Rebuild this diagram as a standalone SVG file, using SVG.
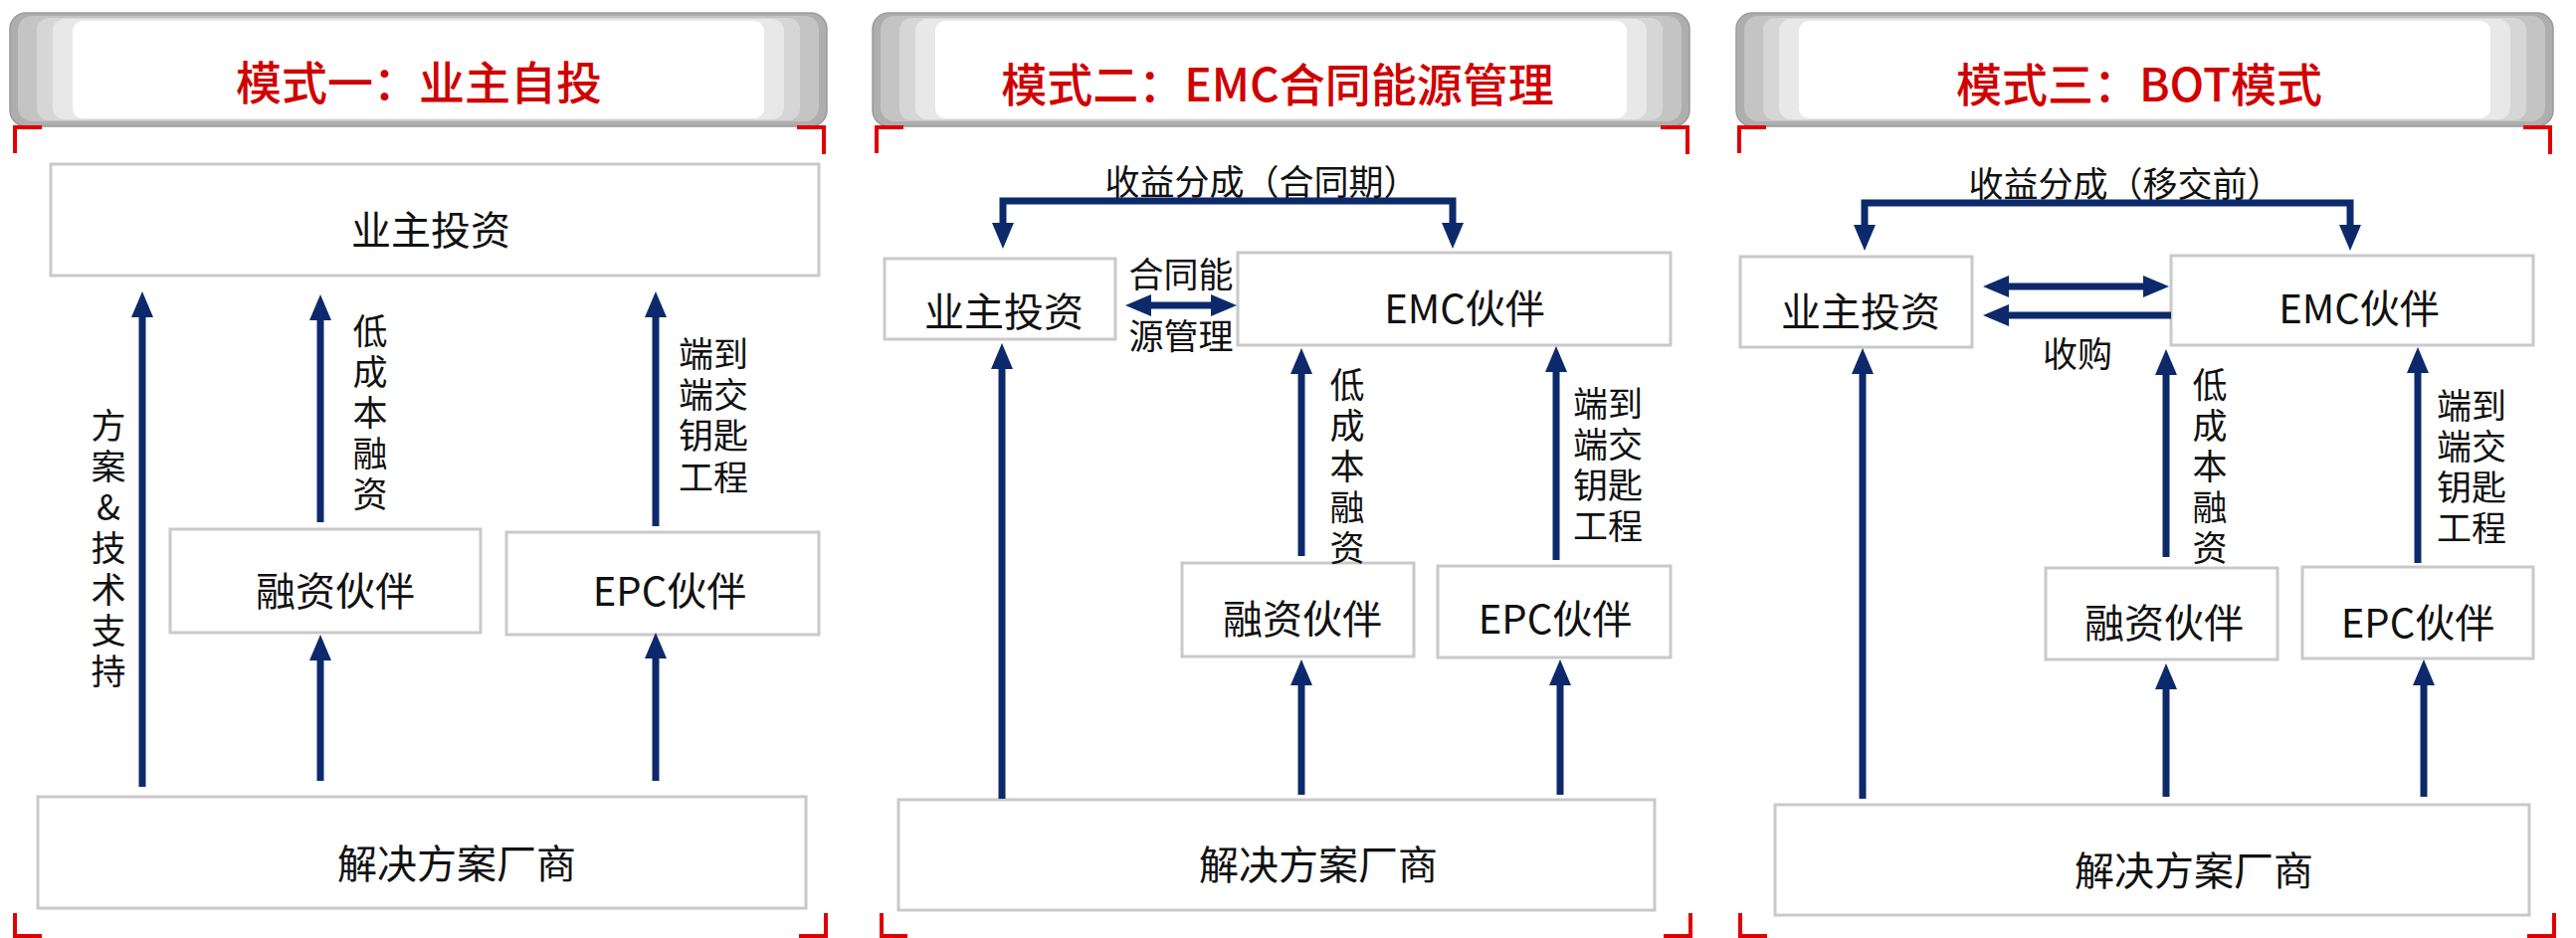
<svg xmlns="http://www.w3.org/2000/svg" width="2589" height="943" viewBox="0 0 2589 943">
<style>
text{font-family:"Noto Sans CJK SC","Noto Sans",sans-serif;text-anchor:middle;dominant-baseline:central;fill:#111}
.title{font-size:46px;fill:#d00000;font-weight:500}
.box{fill:#fff;stroke:#c9c9c9;stroke-width:3}
.bl{font-size:40px}
.lb{font-size:35px}
.ar{fill:none;stroke:#0c2a6b;stroke-width:7}
.arh{marker-end:url(#ah)}
.ar2{marker-start:url(#ah);marker-end:url(#ah)}
.red{fill:none;stroke:#e00000;stroke-width:4}
</style>
<defs>
<marker id="ah" markerWidth="26" markerHeight="22" refX="6" refY="11" orient="auto-start-reverse" markerUnits="userSpaceOnUse"><path d="M0,0 L26,11 L0,22 z" fill="#0c2a6b"/></marker>
<g id="hdr">
<rect x="0" y="0" width="821" height="114" rx="16" fill="#aeaeae" stroke="#9a9a9a" stroke-width="1.5"/>
<rect x="8" y="3" width="805" height="106" rx="14" fill="#c4c4c4"/>
<rect x="27" y="5" width="767" height="103" rx="12" fill="#d6d6d6"/>
<rect x="43" y="6" width="735" height="101" rx="12" fill="#e8e8e8"/>
<rect x="63" y="8" width="695" height="98" rx="10" fill="#fff"/>
</g>
</defs>
<rect width="2589" height="943" fill="#fff"/>

<g id="panel1-header">
<use href="#hdr" x="10" y="13"/>
<text class="title" x="421" y="80">模式一：业主自投</text>
<path class="red" d="M15,154 V128 H42 M801,128 H828 V155 M15,918 V941 H42 M803,941 H830 V918"/>
</g>
<g id="panel2-header">
<use href="#hdr" x="877" y="13"/>
<text class="title" x="1284" y="82">模式二：EMC合同能源管理</text>
<path class="red" d="M881,154 V128 H908 M1669,128 H1696 V155 M886,918 V941 H912 M1672,941 H1699 V918"/>
</g>
<g id="panel3-header">
<use href="#hdr" x="1745" y="13"/>
<text class="title" x="2150" y="82">模式三：BOT模式</text>
<path class="red" d="M1748,154 V128 H1775 M2536,128 H2563 V155 M1749,918 V941 H1776 M2540,941 H2567 V918"/>
</g>

<!-- Panel 1 nodes -->
<g id="p1-owner"><rect class="box" x="51" y="165" width="772" height="112"/><text class="bl" x="433" y="229">业主投资</text></g>
<g id="p1-finance"><rect class="box" x="171" y="532" width="312" height="104"/><text class="bl" x="337" y="592">融资伙伴</text></g>
<g id="p1-epc"><rect class="box" x="509" y="535" width="314" height="103"/><text class="bl" x="673" y="592">EPC伙伴</text></g>
<g id="p1-vendor"><rect class="box" x="38" y="801" width="772" height="112"/><text class="bl" x="459" y="866">解决方案厂商</text></g>

<!-- Panel 2 nodes -->
<g id="p2-owner"><rect class="box" x="889" y="260" width="232" height="81"/><text class="bl" x="1009" y="311">业主投资</text></g>
<g id="p2-emc"><rect class="box" x="1244" y="254" width="435" height="93"/><text class="bl" x="1472" y="308">EMC伙伴</text></g>
<g id="p2-finance"><rect class="box" x="1188" y="566" width="233" height="94"/><text class="bl" x="1309" y="620">融资伙伴</text></g>
<g id="p2-epc"><rect class="box" x="1445" y="569" width="234" height="92"/><text class="bl" x="1563" y="620">EPC伙伴</text></g>
<g id="p2-vendor"><rect class="box" x="903" y="804" width="760" height="111"/><text class="bl" x="1325" y="867">解决方案厂商</text></g>

<!-- Panel 3 nodes -->
<g id="p3-owner"><rect class="box" x="1749" y="258" width="233" height="91"/><text class="bl" x="1870" y="311">业主投资</text></g>
<g id="p3-emc"><rect class="box" x="2182" y="257" width="364" height="90"/><text class="bl" x="2371" y="308">EMC伙伴</text></g>
<g id="p3-finance"><rect class="box" x="2056" y="571" width="233" height="92"/><text class="bl" x="2175" y="624">融资伙伴</text></g>
<g id="p3-epc"><rect class="box" x="2314" y="570" width="232" height="92"/><text class="bl" x="2430" y="624">EPC伙伴</text></g>
<g id="p3-vendor"><rect class="box" x="1784" y="809" width="758" height="111"/><text class="bl" x="2205" y="873">解决方案厂商</text></g>

<g id="connectors">
<!-- Panel 1 -->
<path class="ar arh" d="M143,791 V313"/>
<path class="ar arh" d="M322,525 V316"/>
<path class="ar arh" d="M322,785 V658"/>
<path class="ar arh" d="M659,529 V313"/>
<path class="ar arh" d="M659,785 V656"/>
<!-- Panel 2 -->
<path class="ar ar2" d="M1008,230 V202 H1460 V230"/>
<path class="ar ar2" d="M1151,307 H1223"/>
<path class="ar arh" d="M1007,803 V365"/>
<path class="ar arh" d="M1308,559 V370"/>
<path class="ar arh" d="M1308,799 V683"/>
<path class="ar arh" d="M1564,563 V368"/>
<path class="ar arh" d="M1568,799 V683"/>
<!-- Panel 3 -->
<path class="ar ar2" d="M1874,232 V204 H2362 V232"/>
<path class="ar ar2" d="M2013,288 H2160"/>
<path class="ar arh" d="M2182,317 H2013"/>
<path class="ar arh" d="M1872,803 V370"/>
<path class="ar arh" d="M2177,560 V371"/>
<path class="ar arh" d="M2177,801 V687"/>
<path class="ar arh" d="M2430,566 V369"/>
<path class="ar arh" d="M2436,801 V683"/>
</g>

<g id="labels">
<text class="lb"><tspan x="109" y="425">方</tspan><tspan x="109" y="466">案</tspan><tspan x="109" y="507">&amp;</tspan><tspan x="109" y="548">技</tspan><tspan x="109" y="590">术</tspan><tspan x="109" y="631">支</tspan><tspan x="109" y="672">持</tspan></text>
<text class="lb"><tspan x="372" y="330">低</tspan><tspan x="372" y="371">成</tspan><tspan x="372" y="412">本</tspan><tspan x="372" y="453">融</tspan><tspan x="372" y="494">资</tspan></text>
<text class="lb"><tspan x="717" y="353">端到</tspan><tspan x="717" y="394">端交</tspan><tspan x="717" y="435">钥匙</tspan><tspan x="717" y="477">工程</tspan></text>

<text class="lb" x="1268" y="180">收益分成（合同期）</text>
<text class="lb" x="1187" y="273">合同能</text>
<text class="lb" x="1187" y="335">源管理</text>
<text class="lb"><tspan x="1354" y="384">低</tspan><tspan x="1354" y="425">成</tspan><tspan x="1354" y="466">本</tspan><tspan x="1354" y="507">融</tspan><tspan x="1354" y="548">资</tspan></text>
<text class="lb"><tspan x="1616" y="403">端到</tspan><tspan x="1616" y="444">端交</tspan><tspan x="1616" y="485">钥匙</tspan><tspan x="1616" y="526">工程</tspan></text>

<text class="lb" x="2136" y="182">收益分成（移交前）</text>
<text class="lb" x="2088" y="353">收购</text>
<text class="lb"><tspan x="2221" y="384">低</tspan><tspan x="2221" y="425">成</tspan><tspan x="2221" y="466">本</tspan><tspan x="2221" y="507">融</tspan><tspan x="2221" y="548">资</tspan></text>
<text class="lb"><tspan x="2484" y="405">端到</tspan><tspan x="2484" y="446">端交</tspan><tspan x="2484" y="487">钥匙</tspan><tspan x="2484" y="528">工程</tspan></text>
</g>
</svg>
